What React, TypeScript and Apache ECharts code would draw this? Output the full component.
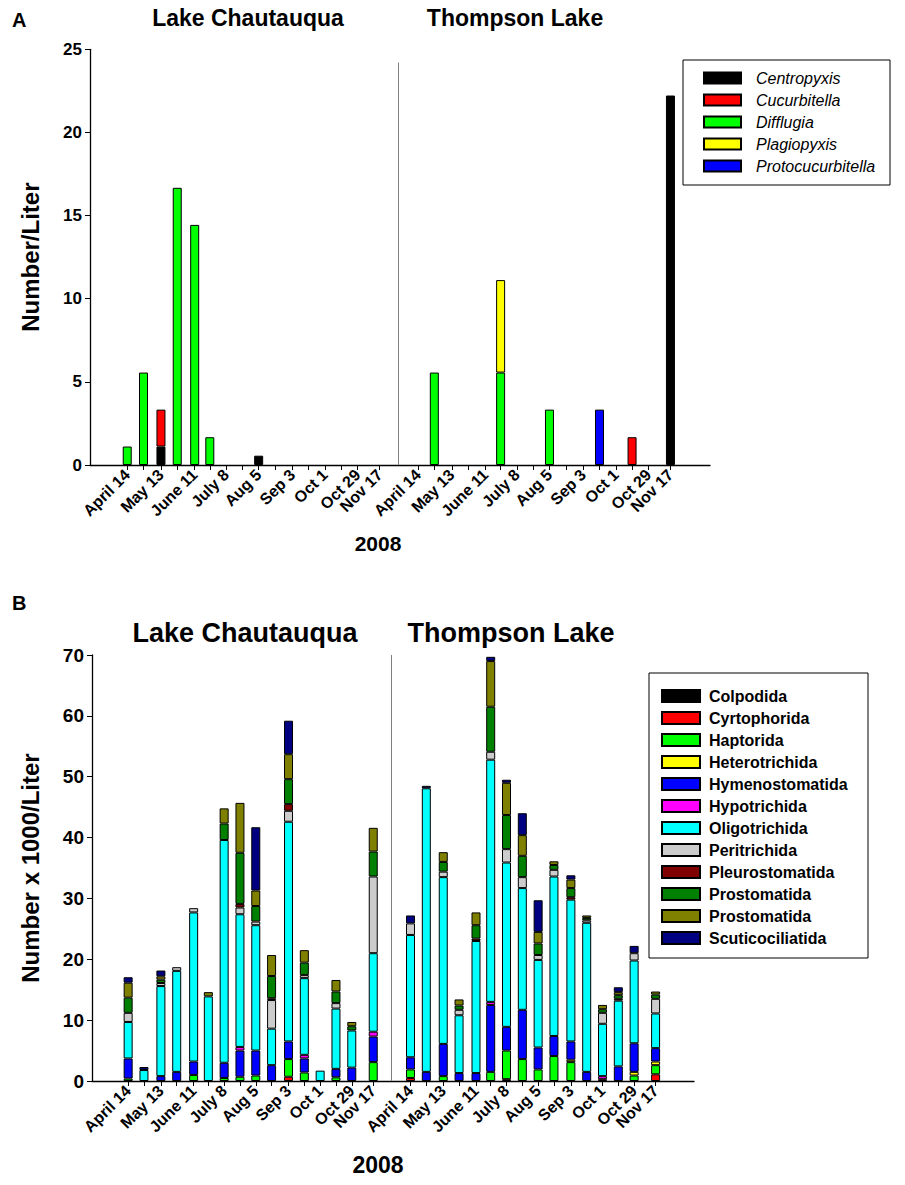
import React, { useEffect, useRef } from 'react';
import * as echarts from 'echarts';

const _ = null;

// Sampling schedule (2008), same for both lakes
const sampleDates = ['2008-04-14', '2008-04-28', '2008-05-13', '2008-05-27', '2008-06-11', '2008-06-24', '2008-07-08', '2008-07-22', '2008-08-05', '2008-08-19', '2008-09-03', '2008-09-17', '2008-10-01', '2008-10-15', '2008-10-29', '2008-11-17'];
const tickLabels = ['April 14', _, 'May 13', _, 'June 11', _, 'July 8', _, 'Aug 5', _, 'Sep 3', _, 'Oct 1', _, 'Oct 29', 'Nov 17'];
const lakes = ['Lake Chautauqua', 'Thompson Lake'];
const yearLabel = '2008';

// ---- Panel A: testate amoebae (Number/Liter); 16 Chautauqua values, then 16 Thompson values
const centropyxis = [_, _, 1.11, _, _, _, _, _, 0.56, _, _, _, _, _, _, _, /**/ _, _, _, _, _, _, _, _, _, _, _, _, _, _, _, 22.22];
const cucurbitella = [_, _, 2.22, _, _, _, _, _, _, _, _, _, _, _, _, _, /**/ _, _, _, _, _, _, _, _, _, _, _, _, _, 1.67, _, _];
const difflugia = [1.11, 5.56, _, 16.67, 14.44, 1.67, _, _, _, _, _, _, _, _, _, _, /**/ _, 5.56, _, _, _, 5.56, _, _, 3.33, _, _, _, _, _, _, _];
const plagiopyxis = [_, _, _, _, _, _, _, _, _, _, _, _, _, _, _, _, /**/ _, _, _, _, _, 5.56, _, _, _, _, _, _, _, _, _, _];
const protocucurbitella = [_, _, _, _, _, _, _, _, _, _, _, _, _, _, _, _, /**/ _, _, _, _, _, _, _, _, _, _, _, 3.33, _, _, _, _];

// ---- Panel B: ciliates (Number x 1000/Liter)
const colpodida = [_, _, _, _, _, _, _, _, _, _, _, _, _, _, _, _, /**/ _, _, _, _, _, _, _, _, _, _, _, _, _, _, _, _];
const cyrtophorida = [_, _, _, _, _, _, _, _, _, _, 0.7, _, _, _, _, _, /**/ 0.5, _, _, _, _, _, 0.3, _, _, _, _, _, 0.3, _, _, 1.1];
const haptorida = [0.4, _, _, _, 1.0, _, 0.5, 0.7, 0.9, _, 2.9, 1.4, _, 0.6, _, 3.1, /**/ 1.4, _, 0.8, _, _, 1.5, 4.7, 3.6, 1.9, 4.1, 3.1, _, _, _, 0.9, 1.5];
const heterotrichida = [_, _, _, _, _, _, _, _, _, _, _, _, _, _, _, _, /**/ _, _, _, _, _, _, _, _, _, _, 0.4, _, _, _, 0.6, 0.6];
const hymenostomatida = [3.3, _, 0.8, 1.5, 2.2, _, 2.5, 4.3, 4.1, 2.6, 2.9, 2.3, _, 1.4, 2.2, 4.2, /**/ 2.0, 1.5, 5.3, 1.3, 1.3, 11.0, 3.9, 8.1, 3.6, 3.3, 3.0, 1.5, _, 2.4, 4.7, 2.2];
const hypotrichida = [_, _, _, _, _, _, _, 0.6, _, _, _, 0.6, _, _, _, 0.8, /**/ _, _, _, _, _, 0.5, _, _, _, _, _, _, 0.5, _, _, _];
const oligotrichida = [6.0, 1.8, 14.8, 16.6, 24.5, 13.9, 36.6, 21.8, 20.6, 6.0, 36.1, 12.6, 1.7, 9.9, 6.1, 12.9, /**/ 20.1, 46.6, 27.4, 9.5, 21.7, 39.8, 27.0, 20.0, 14.4, 26.2, 23.3, 24.5, 8.6, 10.8, 13.6, 5.7];
const peritrichida = [1.5, _, 0.5, 0.6, 0.7, _, _, 1.1, 0.6, 4.7, 1.8, 0.5, _, 0.9, _, 12.6, /**/ 1.9, _, 0.9, 0.9, _, 1.3, 2.2, 1.8, 0.8, 1.1, _, 0.4, 1.8, _, 1.2, 2.4];
const pleurostomatida = [_, _, _, _, _, _, _, 0.6, _, 0.3, 1.1, _, _, _, _, _, /**/ _, _, _, _, 0.4, _, _, _, _, _, 0.4, _, _, 0.3, _, _];
const prostomatidaGreen = [2.5, _, 0.55, _, _, _, 2.7, 8.4, 2.55, 3.65, 4.1, 2.05, _, 1.9, 0.7, 4.1, /**/ _, _, 1.6, 0.7, 2.2, 7.4, 5.6, 3.5, 1.9, 0.8, 1.5, 0.4, 0.6, 0.6, _, 0.7];
const prostomatidaOlive = [2.45, _, 0.55, _, _, 0.7, 2.5, 8.2, 2.55, 3.45, 4.1, 2.05, _, 1.9, 0.7, 3.9, /**/ _, _, 1.6, 1.0, 2.1, 7.5, 5.3, 3.4, 1.9, 0.6, 1.4, 0.4, 0.7, 0.5, _, 0.5];
const scuticociliatida = [0.9, 0.5, 0.95, _, _, _, _, _, 10.4, _, 5.5, _, _, _, _, _, /**/ 1.3, 0.4, _, _, _, 0.7, 0.5, 3.6, 5.2, _, 0.7, _, _, 0.8, 1.2, _];

const testateSeries = [
  { name: 'Centropyxis', color: '#000000', values: centropyxis },
  { name: 'Cucurbitella', color: '#ff0000', values: cucurbitella },
  { name: 'Difflugia', color: '#00ff00', values: difflugia },
  { name: 'Plagiopyxis', color: '#ffff00', values: plagiopyxis },
  { name: 'Protocucurbitella', color: '#0000ff', values: protocucurbitella },
];
const ciliateSeries = [
  { name: 'Colpodida', color: '#000000', values: colpodida },
  { name: 'Cyrtophorida', color: '#ff0000', values: cyrtophorida },
  { name: 'Haptorida', color: '#00ff00', values: haptorida },
  { name: 'Heterotrichida', color: '#ffff00', values: heterotrichida },
  { name: 'Hymenostomatida', color: '#0000ff', values: hymenostomatida },
  { name: 'Hypotrichida', color: '#ff00ff', values: hypotrichida },
  { name: 'Oligotrichida', color: '#00ffff', values: oligotrichida },
  { name: 'Peritrichida', color: '#cccccc', values: peritrichida },
  { name: 'Pleurostomatida', color: '#800000', values: pleurostomatida },
  { name: 'Prostomatida', color: '#008000', values: prostomatidaGreen },
  { name: 'Prostomatida ', color: '#808000', values: prostomatidaOlive },
  { name: 'Scuticociliatida', color: '#000080', values: scuticociliatida },
];

// ---- time-proportional axis (days since first sample); second lake shifted right
const DAY_MS = 86400000;
const origin = Date.parse(sampleDates[0]);
const sampleDay = sampleDates.map((d) => Math.round((Date.parse(d) - origin) / DAY_MS));
const LAKE_SHIFT = 250;
const DAY_MIN = -32;
const DAY_MAX = 501;
const SEPARATOR_DAY = 233;
const categories: string[] = [];
for (let d = DAY_MIN; d <= DAY_MAX; d++) categories.push(String(d));
const tickDays = new Set<number>();
const labelByDay = new Map<number, string>();
lakes.forEach((_l, li) => {
  sampleDay.forEach((d, si) => {
    const day = d + li * LAKE_SHIFT;
    tickDays.add(day);
    if (tickLabels[si]) labelByDay.set(day, tickLabels[si] as string);
  });
});
// an empty end-of-axis label slot so that ECharts' min/max-label overlap check leaves real labels alone
const showLabelAt = (day: number) => labelByDay.has(day) || day === DAY_MAX;
const toSlots = (vals: (number | null)[]) => {
  const arr: (number | null)[] = new Array(categories.length).fill(null);
  vals.forEach((v, i) => {
    if (v == null) return;
    const li = Math.floor(i / sampleDates.length);
    const si = i % sampleDates.length;
    arr[sampleDay[si] + li * LAKE_SHIFT - DAY_MIN] = v;
  });
  return arr;
};

const FONT = '"Liberation Sans", Arial, Helvetica, sans-serif';

function buildOption() {
  const xAxis = [0, 1].map((gi) => ({
    type: 'category',
    gridIndex: gi,
    data: categories,
    boundaryGap: false,
    axisLine: { show: true, lineStyle: { color: '#000', width: 1.3 } },
    axisTick: {
      show: true,
      interval: (_i: number, v: string) => tickDays.has(Number(v)),
      length: 5,
      lineStyle: { color: '#000', width: 1 },
    },
    axisLabel: {
      interval: (_i: number, v: string) => showLabelAt(Number(v)),
      formatter: (v: string) => labelByDay.get(Number(v)) || '',
      showMinLabel: true,
      showMaxLabel: false,
      hideOverlap: false,
      rotate: 45,
      fontSize: 16,
      fontWeight: 'bold',
      color: '#000',
      fontFamily: FONT,
      margin: 7,
    },
    splitLine: { show: false },
  }));

  const yCommon = (gi: number, max: number, interval: number, name: string, nameGap: number, fs: number) => ({
    type: 'value',
    gridIndex: gi,
    min: 0,
    max,
    interval,
    name,
    nameLocation: 'middle',
    nameGap,
    nameTextStyle: { fontSize: 24, fontWeight: 'bold', color: '#000', fontFamily: FONT },
    axisLine: { show: true, lineStyle: { color: '#000', width: 1.3 } },
    axisTick: { show: true, length: 5, lineStyle: { color: '#000' } },
    axisLabel: { fontSize: fs, fontWeight: 'bold', color: '#000', fontFamily: FONT, margin: 8 },
    splitLine: { show: false },
  });

  const sepLine = (top: number) => ({
    silent: true,
    symbol: 'none',
    label: { show: false },
    lineStyle: { color: '#808080', width: 1, type: 'solid' },
    data: [[{ coord: [String(SEPARATOR_DAY), 0] }, { coord: [String(SEPARATOR_DAY), top] }]],
  });

  const series: any[] = [];
  testateSeries.forEach((s, i) => {
    series.push({
      type: 'bar',
      name: s.name,
      xAxisIndex: 0,
      yAxisIndex: 0,
      stack: 'testate',
      barWidth: 9,
      data: toSlots(s.values),
      itemStyle: { color: s.color, borderColor: '#000', borderWidth: 1 },
      markLine: i === 0 ? sepLine(24.2) : undefined,
    });
  });
  ciliateSeries.forEach((s, i) => {
    series.push({
      type: 'bar',
      name: s.name,
      xAxisIndex: 1,
      yAxisIndex: 1,
      stack: 'ciliate',
      barWidth: 9,
      data: toSlots(s.values),
      itemStyle: { color: s.color, borderColor: '#000', borderWidth: 1 },
      markLine: i === 0 ? sepLine(70) : undefined,
    });
  });

  const txt = (text: string, x: number, y: number, size: number, align = 'center') => ({
    type: 'text',
    x,
    y,
    silent: true,
    style: {
      text,
      fill: '#000',
      font: `bold ${size}px ${FONT}`,
      align,
      verticalAlign: 'middle',
      textAlign: align,
      textVerticalAlign: 'middle',
    },
  });

  return {
    animation: false,
    backgroundColor: '#ffffff',
    textStyle: { fontFamily: FONT },
    grid: [
      { left: 90, top: 49.3, width: 620, height: 415.7 },
      { left: 92, top: 655, width: 602, height: 426 },
    ],
    xAxis,
    yAxis: [
      yCommon(0, 25, 5, 'Number/Liter', 48, 17),
      yCommon(1, 70, 10, 'Number x 1000/Liter', 50, 19),
    ],
    legend: [
      {
        orient: 'vertical',
        left: 703,
        top: 70,
        padding: 0,
        itemWidth: 37,
        itemHeight: 11,
        itemGap: 6,
        icon: 'rect',
        selectedMode: false,
        data: testateSeries.map((s) => s.name),
        textStyle: { fontSize: 16, fontStyle: 'italic', color: '#000', fontFamily: FONT, lineHeight: 16, padding: [0, 0, 0, 10] },
      },
      {
        orient: 'vertical',
        left: 661,
        top: 688,
        padding: 0,
        itemWidth: 38,
        itemHeight: 12,
        itemGap: 6,
        icon: 'rect',
        selectedMode: false,
        data: ciliateSeries.map((s) => s.name),
        formatter: (n: string) => n.trim(),
        textStyle: { fontSize: 16, fontWeight: 'bold', color: '#000', fontFamily: FONT, lineHeight: 16, padding: [0, 0, 0, 4] },
      },
    ],
    graphic: [
      { type: 'rect', shape: { x: 683, y: 60, width: 207, height: 125 }, style: { fill: 'none', stroke: '#000', lineWidth: 1 }, silent: true },
      { type: 'rect', shape: { x: 649, y: 673, width: 219, height: 285 }, style: { fill: 'none', stroke: '#000', lineWidth: 1 }, silent: true },
      txt('A', 12, 20, 20, 'left'),
      txt('B', 12, 603, 20, 'left'),
      txt(lakes[0], 248, 18, 23),
      txt(lakes[1], 515, 18, 23),
      txt(lakes[0], 245, 633, 27),
      txt(lakes[1], 511, 633, 27),
      txt(yearLabel, 378, 543, 21),
      txt(yearLabel, 378, 1165, 23),
    ],
    series,
  };
}

export default function App() {
  const ref = useRef<HTMLDivElement>(null);
  useEffect(() => {
    if (!ref.current) return;
    const chart = echarts.init(ref.current, undefined, { renderer: 'svg' });
    chart.setOption(buildOption() as any);
    return () => chart.dispose();
  }, []);
  return <div ref={ref} style={{ position: 'absolute', left: 0, top: 0, width: 905, height: 1185, background: '#fff' }} />;
}
